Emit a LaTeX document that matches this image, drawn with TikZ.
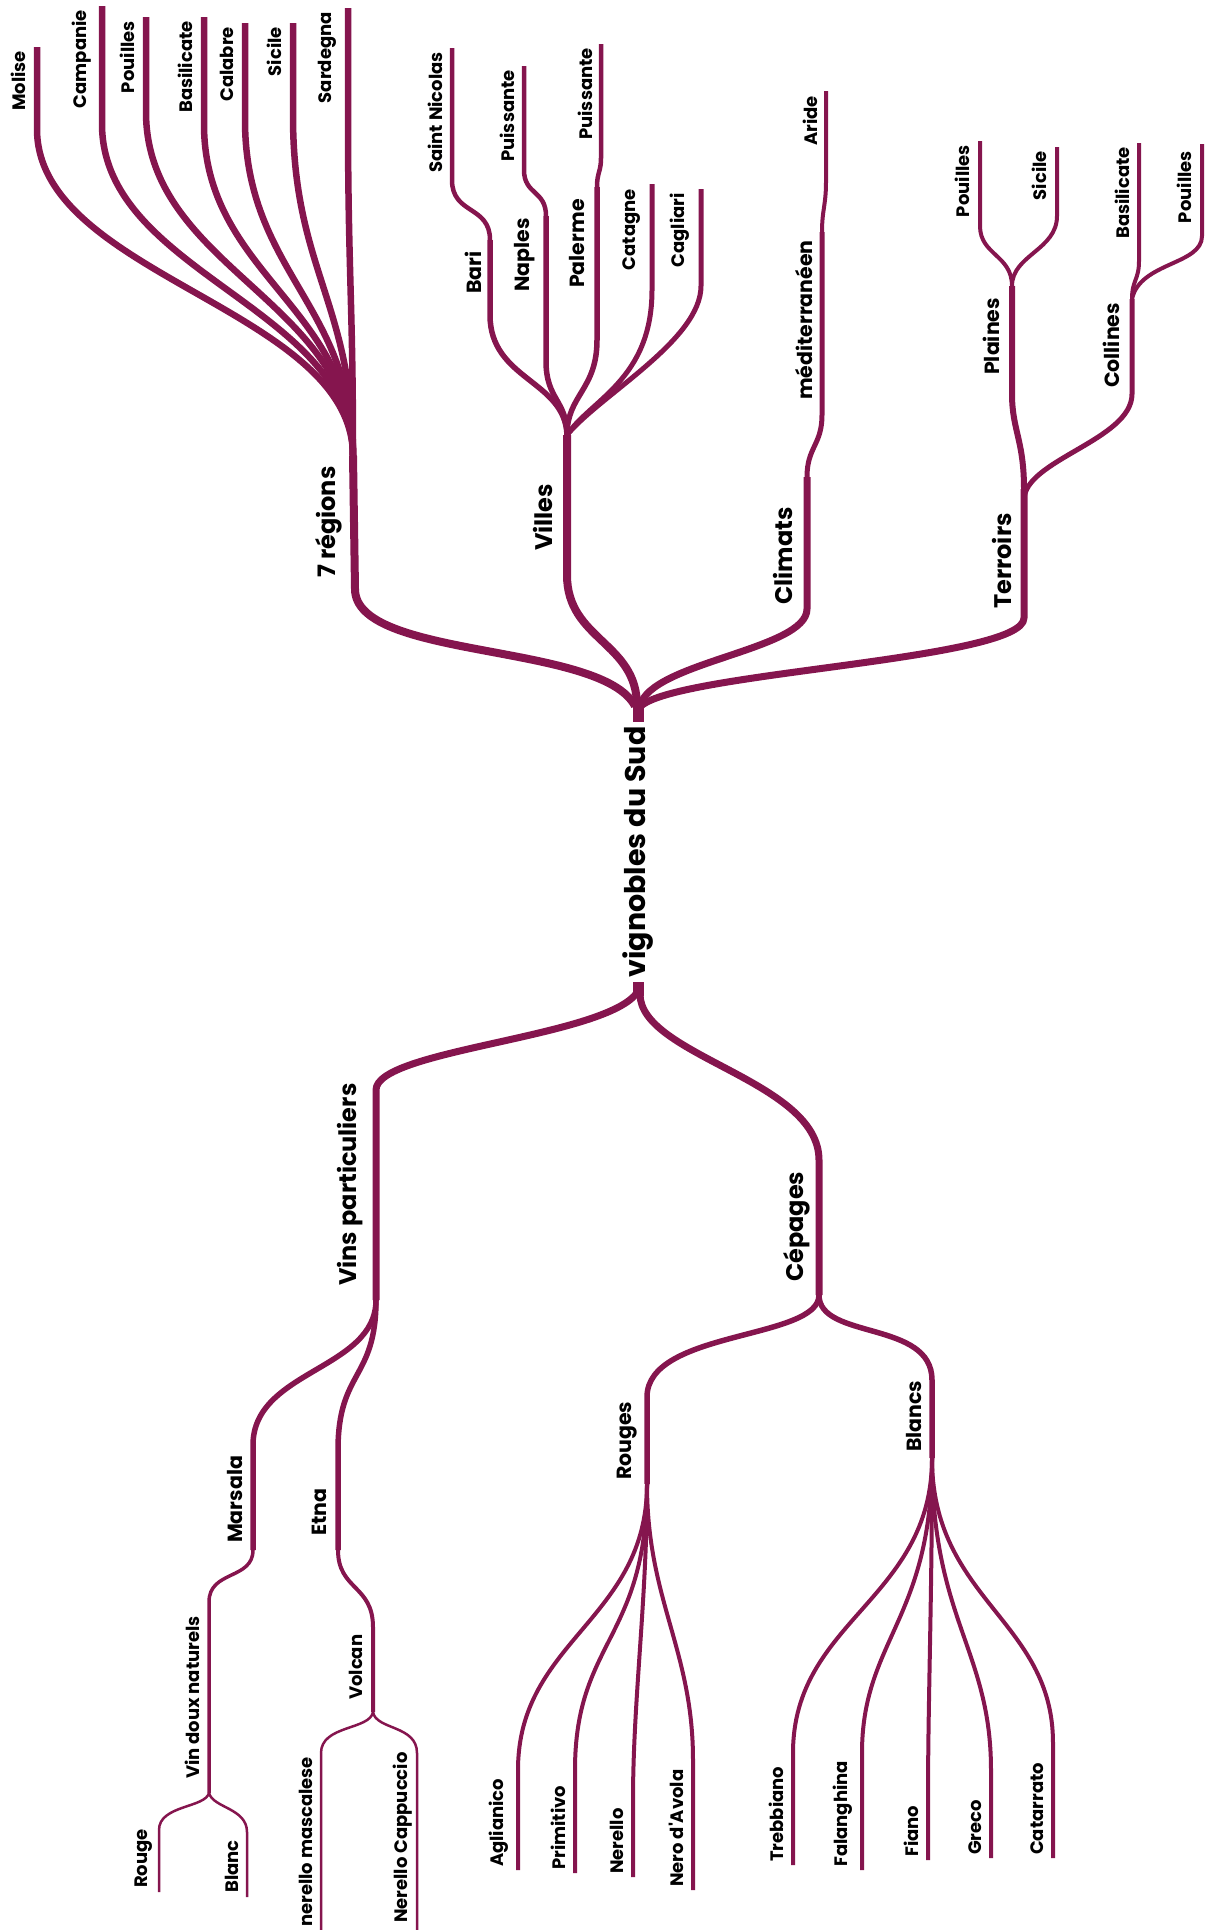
\documentclass[tikz,border=0pt]{standalone}
\usepackage{fontspec}
\setmainfont{Poppins}[Ligatures=TeXOff]
\usepackage{xcolor}
\usetikzlibrary{calc}
\definecolor{vin}{RGB}{133,21,78}

\tikzset{
  branch/.style={draw=vin, line width=#1, line join=round},
  branch/.default=4,
  lbl/.style={rotate=90, inner sep=0pt, text=black},
  leafup/.style={lbl, anchor=south east, font=\fontsize{18}{18}\selectfont\bfseries},
  leafdn/.style={lbl, anchor=south west, font=\fontsize{18}{18}\selectfont\bfseries},
  middn/.style={lbl, anchor=south west, font=\fontsize{20.5}{20.5}\selectfont\bfseries},
  bigdn/.style={lbl, anchor=south west, font=\fontsize{24}{24}\selectfont\bfseries},
  rootlbl/.style={lbl, anchor=center, font=\fontsize{28.5}{28.5}\selectfont\bfseries},
}

\begin{document}
\begin{tikzpicture}[x=1pt, y=-1pt]
\useasboundingbox (0,0) rectangle (1205,1930);

% centre
\node[rootlbl] (sud) at (638,852) {vignobles du Sud};
\coordinate (sudN) at (638,702);
\coordinate (sudS) at (638,996);
\draw[branch=11] (sudN) -- (638,722);
\draw[branch=11] (638,982) -- (sudS);

% 7 regions
\coordinate (reg) at (353,456);
\coordinate (regB) at (355,589);
\draw[branch=8] (reg) -- (regB) .. controls +(0,71) and +(-34,-64) .. (635,706);
\foreach \x/\t/\b/\lab [count=\i] in {37/47/129/Molise, 102/6/124/Campanie,
    146/17/112/Pouilles, 204/17/124/Basilicate, 245/23/120/Calabre,
    293/23/116/Sicile, 348/8/116/Sardegna} {
  \pgfmathsetmacro\d{0.45*(456-\b)}
  \draw[branch=6.5] (\x,\t) -- (\x,\b) .. controls +(0,\d) and +(0,-\d) .. (reg);
  \node[leafup] (reg-\i) at (\x-11,\t+4) {\lab};
}
\node[bigdn] (regions) at (342,578) {7 régions};

% villes
\coordinate (vil) at (567,435);
\coordinate (bariT) at (490,240);
\coordinate (bariB) at (490,315);
\coordinate (napT) at (546,216);
\coordinate (napB) at (546,361);
\coordinate (palT) at (597,187);
\coordinate (palB) at (597,340);
\draw[branch=8] (vil) -- (567,575) .. controls +(0,65) and +(0,-64) .. (637,706);
\draw[branch=4.5] (452,48) -- (452,180) .. controls +(0,35) and +(0,-35) .. (bariT);
\draw[branch=5.5] (bariT) -- (bariB) .. controls +(0,65) and +(-2,-55) .. (vil);
\draw[branch=4.5] (524,66) -- (524,170) .. controls +(0,25) and +(0,-26) .. (napT);
\draw[branch=5.5] (napT) -- (napB) .. controls +(0,39) and +(0,-35) .. (vil);
\draw[branch=4.5] (601,44) -- (601,158) .. controls +(0,14) and +(0,-15) .. (palT);
\draw[branch=5.5] (palT) -- (palB) .. controls +(0,50) and +(0,-40) .. (vil);
\draw[branch=5] (652,184) -- (652,290) .. controls +(0,90) and +(23,-35) .. (vil);
\draw[branch=5] (701,189) -- (701,286) .. controls +(0,54) and +(33,-40) .. (vil);
\node[leafup] (stnicolas) at (443,52) {Saint Nicolas};
\node[leafup] (puis-1) at (515,70) {Puissante};
\node[leafup] (puis-2) at (593,48) {Puissante};
\node[leafup] (catagne) at (641,189) {Catagne};
\node[leafup] (cagliari) at (690,193) {Cagliari};
\node[middn] (bari) at (482,294) {Bari};
\node[middn] (naples) at (535,292) {Naples};
\node[middn] (palerme) at (585,288) {Palerme};
\node[bigdn] (villes) at (553,551) {Villes};

% climats
\coordinate (medT) at (822,232);
\coordinate (medB) at (822,415);
\coordinate (cliT) at (807,477);
\coordinate (cliB) at (807,609);
\draw[branch=4] (826,91) -- (826,182) .. controls +(0,23) and +(0,-22) .. (medT);
\draw[branch=5] (medT) -- (medB) .. controls +(0,30) and +(0,-30) .. (cliT);
\draw[branch=7] (cliT) -- (cliB) .. controls +(0,41) and +(10,-44) .. (640,706);
\node[leafup] (aride) at (818,96) {Aride};
\node[middn] (medit) at (813,400) {méditerranéen};
\node[bigdn] (climats) at (793,605) {Climats};

% terroirs
\coordinate (terT) at (1024,489);
\coordinate (terC) at (1024,500);
\coordinate (terB) at (1024,618);
\coordinate (plaB) at (1012,394);
\coordinate (plaT) at (1012,286);
\coordinate (colB) at (1132,394);
\coordinate (colT) at (1132,299);
\draw[branch=7] (terT) -- (terB) .. controls +(0,42) and +(38,-34) .. (641,706);
\draw[branch=6] (terT) .. controls +(0,-49) and +(0,36) .. (plaB) -- (plaT);
\draw[branch=4] (980,141) -- (980,226) .. controls +(0,29) and +(0,-31) .. (plaT);
\draw[branch=4] (1057,147) -- (1057,216) .. controls +(0,34) and +(0,-31) .. (plaT);
\draw[branch=5] (terC) .. controls +(0,-40) and +(0,46) .. (colB) -- (colT);
\draw[branch=4] (1139,143) -- (1139,261) .. controls +(0,19) and +(0,-19) .. (colT);
\draw[branch=4] (1202,144) -- (1202,236) .. controls +(0,29) and +(8,-37) .. (colT);
\node[leafup] (ter-1) at (970,145) {Pouilles};
\node[leafup] (ter-2) at (1047,151) {Sicile};
\node[leafup] (ter-3) at (1130,147) {Basilicate};
\node[leafup] (ter-4) at (1192,151) {Pouilles};
\node[middn] (plaines) at (1000,375) {Plaines};
\node[middn] (collines) at (1120,388) {Collines};
\node[bigdn] (terroirs) at (1012,609) {Terroirs};

% vins particuliers
\coordinate (vinsT) at (376,1090);
\coordinate (vinsB) at (376,1300);
\coordinate (marT) at (253,1445);
\coordinate (marB) at (253,1550);
\coordinate (etnT) at (338,1450);
\coordinate (etnB) at (338,1550);
\coordinate (vdnT) at (209,1602);
\coordinate (vdnB) at (209,1793);
\coordinate (volT) at (373,1627);
\coordinate (volB) at (373,1712);
\draw[branch=7] (636,994) .. controls +(-36,44) and +(0,-40) .. (vinsT) -- (vinsB);
\draw[branch=5.5] (vinsB) .. controls +(0,70) and +(0,-75) .. (marT) -- (marB);
\draw[branch=5.5] (vinsB) .. controls +(0,80) and +(0,-80) .. (etnT) -- (etnB);
\draw[branch=3.5] (marB) .. controls +(0,30) and +(0,-32) .. (vdnT) -- (vdnB);
\draw[branch=2.5] (vdnB) .. controls +(-4,15) and +(0,-25) .. (159,1830) -- (159,1892);
\draw[branch=2.5] (vdnB) .. controls +(4,15) and +(0,-24) .. (247,1832) -- (247,1897);
\draw[branch=4] (etnB) .. controls +(0,40) and +(0,-42) .. (volT) -- (volB);
\draw[branch=2.5] (volB) .. controls +(-3,18) and +(0,-28) .. (321,1753) -- (321,1935);
\draw[branch=2.5] (volB) .. controls +(3,18) and +(0,-28) .. (417,1753) -- (417,1935);
\node[bigdn] (vins) at (363,1286) {Vins particuliers};
\node[middn] (marsala) at (243,1543) {Marsala};
\node[middn] (etna) at (327,1536) {Etna};
\node[leafdn] (vdn) at (200,1779) {Vin doux naturels};
\node[leafdn] (rouge) at (153,1888) {Rouge};
\node[leafdn] (blanc) at (239,1893) {Blanc};
\node[leafdn] (volcan) at (363,1700) {Volcan};
\node[leafdn] (mascalese) at (313,1927) {nerello mascalese};
\node[leafdn] (cappuccio) at (412,1923) {Nerello Cappuccio};

% cepages
\coordinate (cepT) at (819,1160);
\coordinate (cepB) at (819,1295);
\coordinate (rouT) at (647,1397);
\coordinate (rouB) at (647,1484);
\coordinate (blaT) at (932,1380);
\coordinate (blaB) at (932,1458);
\draw[branch=7] (640,994) .. controls +(0,62) and +(0,-80) .. (cepT) -- (cepB);
\draw[branch=5.5] (cepB) .. controls +(0,45) and +(0,-67) .. (rouT) -- (rouB);
\draw[branch=5.5] (cepB) .. controls +(0,45) and +(0,-60) .. (blaT) -- (blaB);
\foreach \x/\e/\ca/\cb/\b/\lab [count=\i] in {518/1770/136/130/1870/Aglianico,
    575/1770/156/130/1873/Primitivo, 633/1800/116/100/1877/Nerello,
    693/1760/116/110/1890/Nero d'Avola} {
  \draw[branch=4] (rouB) .. controls +(0,\ca) and +(0,-\cb) .. (\x,\e) -- (\x,\b);
  \node[leafdn] (rou-\i) at (\x-9,\b-3) {\lab};
}
\foreach \x/\e/\ca/\cb/\b/\lab [count=\i] in {793/1753/142/133/1865/Trebbiano,
    862/1753/162/113/1870/Falanghina, 928/1800/142/100/1860/Fiano,
    991/1770/162/120/1858/Greco, 1053/1743/142/123/1858/Catarrato} {
  \draw[branch=4] (blaB) .. controls +(0,\ca) and +(0,-\cb) .. (\x,\e) -- (\x,\b);
  \node[leafdn] (bla-\i) at (\x-9,\b-3) {\lab};
}
\node[bigdn] (cepages) at (810,1282) {Cépages};
\node[middn] (rouges) at (637,1480) {Rouges};
\node[middn] (blancs) at (922,1452) {Blancs};
\end{tikzpicture}
\end{document}
